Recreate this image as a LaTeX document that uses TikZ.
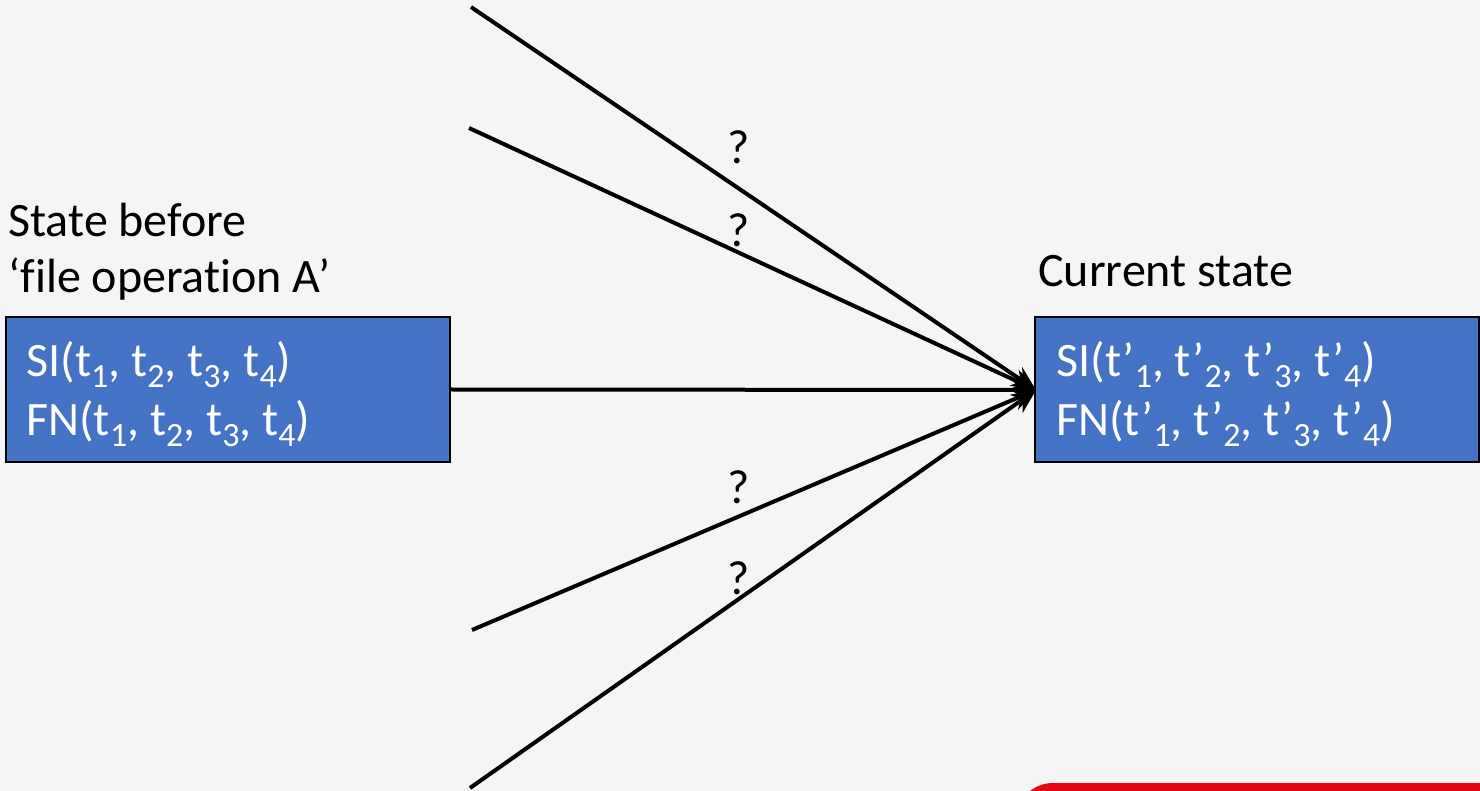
\documentclass[tikz,border=0pt]{standalone}
\usepackage{fontspec}
\setmainfont[Ligatures=NoCommon]{Carlito}
\usetikzlibrary{arrows.meta}
\definecolor{bg}{HTML}{F5F5F5}
\definecolor{boxblue}{HTML}{4472C4}
\definecolor{logored}{HTML}{E30613}
\newcommand{\lowsub}[1]{\raisebox{-5.5pt}{\fontsize{17}{17}\selectfont #1}}
\tikzset{
  statebox/.style={draw=black, line width=1pt, fill=boxblue, text=white, minimum width=222pt, minimum height=72.5pt, inner sep=0pt},
  conn/.style={line width=2pt, -{Stealth[length=12pt,width=11pt]}},
  qlabel/.style={font=\fontsize{24}{28}\selectfont, inner sep=0pt},
  plain/.style={font=\fontsize{24}{28}\selectfont, anchor=base west, inner sep=0pt},
  boxtext/.style={text=white, anchor=base west, font=\fontsize{24}{28}\selectfont, inner sep=0pt}
}
\begin{document}
\begin{tikzpicture}[x=0.5pt,y=-0.5pt]
\fill[bg] (0,0) rectangle (1480,791);
\useasboundingbox (0,0) rectangle (1480,791);
\fill[logored, rounded corners=18.5pt] (1016,783) rectangle (1560,900);
\node[statebox] (L) at (228,389.5) {};
\node[statebox] (R) at (1256.5,389.5) {};
\node[boxtext] (Lsi) at (26,377) {SI(t\lowsub{1}, t\lowsub{2}, t\lowsub{3}, t\lowsub{4})};
\node[boxtext] (Lfn) at (26,436) {FN(t\lowsub{1}, t\lowsub{2}, t\lowsub{3}, t\lowsub{4})};
\node[boxtext] (Rsi) at (1056,377) {SI(t’\lowsub{1}, t’\lowsub{2}, t’\lowsub{3}, t’\lowsub{4})};
\node[boxtext] (Rfn) at (1056,436) {FN(t’\lowsub{1}, t’\lowsub{2}, t’\lowsub{3}, t’\lowsub{4})};
\node[plain] (sb) at (8,237) {State before};
\node[plain] (fo) at (8,293) {‘file operation A’};
\node[plain] (cs) at (1038,287) {Current state};
\coordinate (tip) at (1036,390);
\coordinate (s1) at (471,7);
\coordinate (s2) at (469,128);
\coordinate (s4) at (472,630);
\coordinate (s5) at (470,788);
\draw[conn] (s1) -- (tip);
\draw[conn] (s2) -- (tip);
\draw[conn] (L.east) -- (tip);
\draw[conn] (s4) -- (tip);
\draw[conn] (s5) -- (tip);
\node[qlabel] (q1) at (739,147) {?};
\node[qlabel] (q2) at (739,230) {?};
\node[qlabel] (q3) at (739,487) {?};
\node[qlabel] (q4) at (739,578) {?};
\end{tikzpicture}
\end{document}
